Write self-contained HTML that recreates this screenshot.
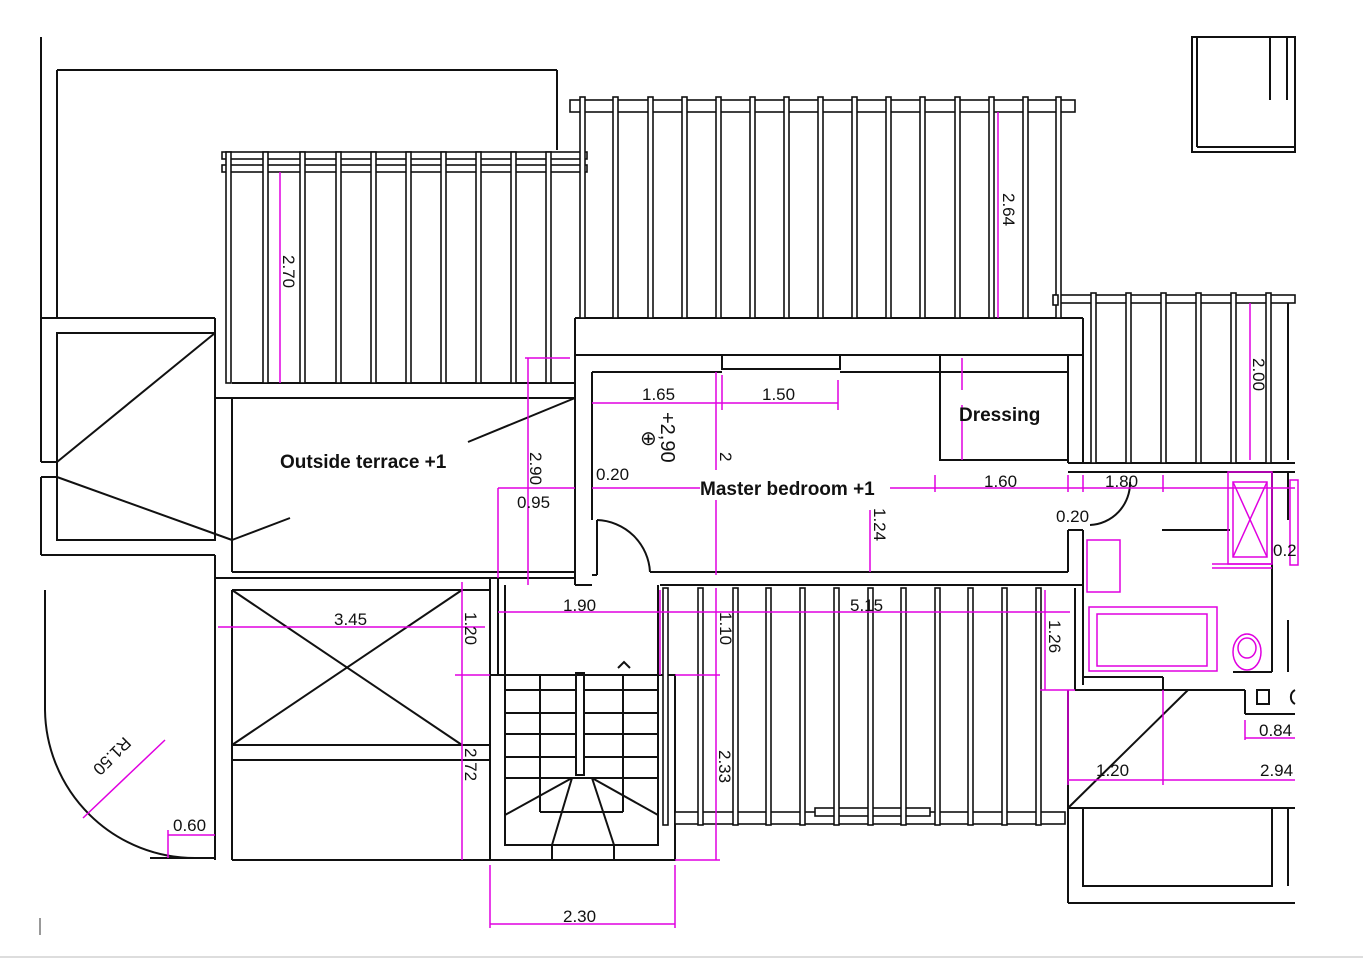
<!DOCTYPE html>
<html><head><meta charset="utf-8"><style>
html,body{margin:0;padding:0;background:#fff;}
svg{display:block;}
text{font-family:"Liberation Sans",sans-serif;}
</style></head><body>
<svg width="1363" height="960" viewBox="0 0 1363 960" xmlns="http://www.w3.org/2000/svg">
<rect width="1363" height="960" fill="#fff"/>
<line x1="0" y1="957" x2="1363" y2="957" stroke="#ddd" stroke-width="2"/>
<g stroke="#111" stroke-width="2" fill="none">
<line x1="41" y1="37" x2="41" y2="318"/>
<line x1="57" y1="70" x2="57" y2="318"/>
<line x1="57" y1="70" x2="557" y2="70"/>
<line x1="557" y1="70" x2="557" y2="150"/>
<line x1="41" y1="318" x2="215" y2="318"/>
<line x1="41" y1="318" x2="41" y2="462"/>
<line x1="41" y1="477" x2="41" y2="555"/>
<line x1="41" y1="462" x2="57" y2="462"/>
<line x1="41" y1="477" x2="57" y2="477"/>
<rect x="57" y="333" width="158" height="207"/>
<line x1="215" y1="333" x2="57" y2="462"/>
<line x1="57" y1="477" x2="232" y2="540"/>
<line x1="232" y1="540" x2="290" y2="518"/>
<line x1="41" y1="555" x2="215" y2="555"/>
<line x1="215" y1="318" x2="215" y2="398"/>
<line x1="215" y1="398" x2="575" y2="398"/>
<line x1="232" y1="383" x2="575" y2="383"/>
<line x1="232" y1="398" x2="232" y2="572"/>
<line x1="232" y1="572" x2="575" y2="572"/>
<line x1="232" y1="578" x2="575" y2="578"/>
<line x1="468" y1="442" x2="575" y2="398"/>
<line x1="215" y1="555" x2="215" y2="860"/>
<line x1="232" y1="590" x2="232" y2="860"/>
<line x1="215" y1="578" x2="490" y2="578"/>
<line x1="232" y1="590" x2="490" y2="590"/>
<line x1="232" y1="590" x2="462" y2="745"/>
<line x1="462" y1="590" x2="232" y2="745"/>
<line x1="232" y1="745" x2="490" y2="745"/>
<line x1="232" y1="760" x2="490" y2="760"/>
<line x1="490" y1="578" x2="490" y2="860"/>
<line x1="232" y1="860" x2="675" y2="860"/>
<line x1="45" y1="590" x2="45" y2="710"/>
<path d="M45 710 A150 150 0 0 0 195 858"/>
<line x1="150" y1="858" x2="215" y2="858"/>
<line x1="498" y1="578" x2="575" y2="578"/>
<line x1="498" y1="578" x2="498" y2="675"/>
<line x1="505" y1="585" x2="505" y2="675"/>
<line x1="658" y1="585" x2="658" y2="675"/>
<rect x="490" y="675" width="185" height="185"/>
<rect x="505" y="675" width="153" height="170"/>
<line x1="540" y1="675" x2="540" y2="812"/>
<line x1="623" y1="675" x2="623" y2="812"/>
<line x1="540" y1="812" x2="623" y2="812"/>
<rect x="576" y="673" width="8" height="102"/>
<line x1="505" y1="690" x2="576" y2="690"/><line x1="584" y1="690" x2="658" y2="690"/>
<line x1="505" y1="713" x2="576" y2="713"/><line x1="584" y1="713" x2="658" y2="713"/>
<line x1="505" y1="734" x2="576" y2="734"/><line x1="584" y1="734" x2="658" y2="734"/>
<line x1="505" y1="757" x2="576" y2="757"/><line x1="584" y1="757" x2="658" y2="757"/>
<line x1="505" y1="778" x2="658" y2="778"/>
<line x1="505" y1="815" x2="572" y2="778"/>
<line x1="658" y1="815" x2="592" y2="778"/>
<line x1="552" y1="845" x2="572" y2="778"/>
<line x1="614" y1="845" x2="592" y2="778"/>
<line x1="552" y1="845" x2="552" y2="860"/><line x1="614" y1="845" x2="614" y2="860"/>
<path d="M618 668 L624 662 L630 668"/>
<line x1="575" y1="318" x2="1083" y2="318"/>
<line x1="575" y1="355" x2="1083" y2="355"/>
<line x1="575" y1="318" x2="575" y2="585"/>
<line x1="592" y1="372" x2="592" y2="520"/>
<line x1="592" y1="372" x2="722" y2="372"/>
<line x1="840" y1="372" x2="940" y2="372"/>
<rect x="722" y="355" width="118" height="14"/>
<line x1="1083" y1="318" x2="1083" y2="355"/>
<rect x="940" y="355" width="128" height="105"/>
<line x1="940" y1="372" x2="1068" y2="372"/>
<line x1="1068" y1="355" x2="1068" y2="463"/>
<line x1="1083" y1="355" x2="1083" y2="463"/>
<line x1="1068" y1="463" x2="1295" y2="463"/>
<line x1="1068" y1="472" x2="1295" y2="472"/>
<line x1="597" y1="520" x2="597" y2="575"/>
<path d="M597 520 A55 55 0 0 1 650 572"/>
<line x1="650" y1="572" x2="1068" y2="572"/>
<line x1="660" y1="585" x2="1083" y2="585"/>
<line x1="1068" y1="530" x2="1068" y2="572"/>
<line x1="1068" y1="530" x2="1083" y2="530"/>
<line x1="575" y1="585" x2="592" y2="585"/>
<line x1="592" y1="575" x2="597" y2="575"/>
<path d="M1130 482 A42 42 0 0 1 1090 525"/>
<line x1="1162" y1="530" x2="1230" y2="530"/>
<line x1="1083" y1="530" x2="1083" y2="685"/>
<line x1="1075" y1="588" x2="1075" y2="690"/>
<line x1="1075" y1="690" x2="1163" y2="690"/>
<line x1="1083" y1="677" x2="1163" y2="677"/>
<line x1="1163" y1="677" x2="1163" y2="690"/>
<line x1="1068" y1="690" x2="1068" y2="808"/>
<line x1="1163" y1="690" x2="1245" y2="690"/>
<line x1="1245" y1="690" x2="1245" y2="714"/>
<line x1="1245" y1="714" x2="1295" y2="714"/>
<line x1="1272" y1="472" x2="1272" y2="672"/>
<line x1="1233" y1="672" x2="1272" y2="672"/>
<line x1="1288" y1="472" x2="1288" y2="520"/>
<line x1="1288" y1="620" x2="1288" y2="672"/>
<rect x="1257" y="690" width="12" height="14"/>
<path d="M1295 690 A8 8 0 0 0 1295 704"/>
<line x1="1068" y1="808" x2="1188" y2="690"/>
<line x1="1068" y1="808" x2="1295" y2="808"/>
<line x1="1068" y1="808" x2="1068" y2="903"/>
<line x1="1068" y1="903" x2="1295" y2="903"/>
<rect x="1083" y="808" width="189" height="78"/>
<line x1="1288" y1="808" x2="1288" y2="886"/>
<rect x="1192" y="37" width="103" height="115"/>
<line x1="1197" y1="37" x2="1197" y2="147"/><line x1="1197" y1="147" x2="1295" y2="147"/>
<line x1="1270" y1="37" x2="1270" y2="100"/><line x1="1287" y1="37" x2="1287" y2="100"/>
<line x1="1288" y1="297" x2="1288" y2="460"/>
<line x1="40" y1="918" x2="40" y2="935" stroke="#999"/>
</g>
<g stroke="#111" stroke-width="1.6" fill="#fff">
<rect x="222" y="152" width="365" height="7"/>
<rect x="222" y="165" width="365" height="7"/>
<rect x="570" y="100" width="505" height="12"/>
<rect x="1055" y="295" width="240" height="8"/>
<rect x="675" y="812" width="390" height="12"/>
<rect x="815" y="808" width="115" height="8"/>
</g>
<g stroke="#111" stroke-width="1.6" fill="#fff">
<rect x="226" y="152" width="5" height="231"/><rect x="263" y="152" width="5" height="231"/><rect x="300" y="152" width="5" height="231"/><rect x="336" y="152" width="5" height="231"/><rect x="371" y="152" width="5" height="231"/><rect x="406" y="152" width="5" height="231"/><rect x="441" y="152" width="5" height="231"/><rect x="476" y="152" width="5" height="231"/><rect x="511" y="152" width="5" height="231"/><rect x="546" y="152" width="5" height="231"/>
<rect x="580" y="97" width="5" height="221"/><rect x="613" y="97" width="5" height="221"/><rect x="648" y="97" width="5" height="221"/><rect x="682" y="97" width="5" height="221"/><rect x="716" y="97" width="5" height="221"/><rect x="750" y="97" width="5" height="221"/><rect x="784" y="97" width="5" height="221"/><rect x="818" y="97" width="5" height="221"/><rect x="852" y="97" width="5" height="221"/><rect x="886" y="97" width="5" height="221"/><rect x="920" y="97" width="5" height="221"/><rect x="955" y="97" width="5" height="221"/><rect x="989" y="97" width="5" height="221"/><rect x="1023" y="97" width="5" height="221"/><rect x="1056" y="97" width="5" height="221"/>
<rect x="1053" y="295" width="5" height="10"/>
<rect x="1091" y="293" width="5" height="170"/><rect x="1126" y="293" width="5" height="170"/><rect x="1161" y="293" width="5" height="170"/><rect x="1196" y="293" width="5" height="170"/><rect x="1231" y="293" width="5" height="170"/><rect x="1266" y="293" width="5" height="170"/>
<rect x="663" y="588" width="5" height="237"/><rect x="698" y="588" width="5" height="237"/><rect x="733" y="588" width="5" height="237"/><rect x="766" y="588" width="5" height="237"/><rect x="800" y="588" width="5" height="237"/><rect x="834" y="588" width="5" height="237"/><rect x="868" y="588" width="5" height="237"/><rect x="901" y="588" width="5" height="237"/><rect x="935" y="588" width="5" height="237"/><rect x="968" y="588" width="5" height="237"/><rect x="1002" y="588" width="5" height="237"/><rect x="1036" y="588" width="5" height="237"/>
</g>
<g stroke="#e000e0" stroke-width="1.5" fill="none">
<line x1="280" y1="172" x2="280" y2="383"/>
<line x1="998" y1="112" x2="998" y2="318"/>
<line x1="1250" y1="303" x2="1250" y2="460"/>
<line x1="525" y1="358" x2="570" y2="358"/>
<line x1="528" y1="358" x2="528" y2="585"/>
<line x1="498" y1="488" x2="575" y2="488"/>
<line x1="498" y1="488" x2="498" y2="578"/>
<line x1="592" y1="488" x2="700" y2="488"/>
<line x1="890" y1="488" x2="1295" y2="488"/>
<line x1="935" y1="475" x2="935" y2="492"/><line x1="1068" y1="475" x2="1068" y2="492"/><line x1="1083" y1="475" x2="1083" y2="492"/><line x1="1163" y1="475" x2="1163" y2="492"/>
<line x1="592" y1="403" x2="838" y2="403"/>
<line x1="722" y1="375" x2="722" y2="410"/><line x1="838" y1="380" x2="838" y2="410"/>
<line x1="716" y1="372" x2="716" y2="470"/><line x1="716" y1="500" x2="716" y2="575"/>
<line x1="870" y1="510" x2="870" y2="572"/>
<line x1="962" y1="358" x2="962" y2="390"/><line x1="962" y1="405" x2="962" y2="460"/>
<line x1="498" y1="612" x2="1070" y2="612"/>
<line x1="660" y1="590" x2="660" y2="675"/>
<line x1="716" y1="588" x2="716" y2="860"/>
<line x1="675" y1="675" x2="720" y2="675"/>
<line x1="675" y1="860" x2="720" y2="860"/>
<line x1="218" y1="627" x2="485" y2="627"/>
<line x1="462" y1="582" x2="462" y2="860"/>
<line x1="455" y1="675" x2="490" y2="675"/>
<line x1="1045" y1="590" x2="1045" y2="690"/>
<line x1="1040" y1="690" x2="1075" y2="690"/>
<line x1="490" y1="865" x2="490" y2="928"/><line x1="675" y1="865" x2="675" y2="928"/>
<line x1="490" y1="924" x2="675" y2="924"/>
<line x1="1068" y1="690" x2="1068" y2="785"/>
<line x1="1163" y1="690" x2="1163" y2="785"/>
<line x1="1068" y1="780" x2="1295" y2="780"/>
<line x1="1245" y1="720" x2="1245" y2="740"/><line x1="1245" y1="738" x2="1295" y2="738"/>
<line x1="168" y1="830" x2="168" y2="858"/><line x1="168" y1="835" x2="215" y2="835"/>
<line x1="83" y1="818" x2="165" y2="740"/>
<rect x="1228" y="472" width="44" height="92"/>
<rect x="1233" y="482" width="34" height="75"/>
<line x1="1233" y1="482" x2="1267" y2="557"/><line x1="1267" y1="482" x2="1233" y2="557"/>
<line x1="1212" y1="564" x2="1272" y2="564"/><line x1="1212" y1="568" x2="1272" y2="568"/>
<rect x="1087" y="540" width="33" height="52"/>
<rect x="1089" y="607" width="128" height="64"/>
<rect x="1097" y="614" width="110" height="52"/>
<ellipse cx="1247" cy="652" rx="14" ry="18"/>
<ellipse cx="1247" cy="648" rx="9" ry="10"/>
<rect x="1290" y="480" width="8" height="85"/>
</g>
<g font-size="17" fill="#111">
<text x="642" y="400">1.65</text>
<text x="762" y="400">1.50</text>
<text x="596" y="480">0.20</text>
<text x="517" y="508">0.95</text>
<text x="984" y="487">1.60</text>
<text x="1105" y="487">1.80</text>
<text x="1056" y="522">0.20</text>
<text x="563" y="611">1.90</text>
<text x="850" y="611">5.15</text>
<text x="334" y="625">3.45</text>
<text x="173" y="831">0.60</text>
<text x="563" y="922">2.30</text>
<text x="1096" y="776">1.20</text>
<text x="1260" y="776">2.94</text>
<text x="1259" y="736">0.84</text>
<text x="1273" y="556">0.2</text>
<text transform="translate(283,255) rotate(90)">2.70</text>
<text transform="translate(1003,193) rotate(90)">2.64</text>
<text transform="translate(1253,358) rotate(90)">2.00</text>
<text transform="translate(530,452) rotate(90)">2.90</text>
<text transform="translate(661,412) rotate(90)" font-size="20">+2,90</text>
<text transform="translate(720,452) rotate(90)">2</text>
<text transform="translate(874,508) rotate(90)">1.24</text>
<text transform="translate(465,612) rotate(90)">1.20</text>
<text transform="translate(720,612) rotate(90)">1.10</text>
<text transform="translate(1049,620) rotate(90)">1.26</text>
<text transform="translate(465,748) rotate(90)">2.72</text>
<text transform="translate(719,750) rotate(90)">2.33</text>
<text transform="translate(124,736) rotate(135)">R1.50</text>
<text x="640" y="445" font-size="20">⊕</text>
</g>
<g font-size="19" font-weight="bold" fill="#111">
<text x="280" y="468">Outside terrace +1</text>
<text x="700" y="495">Master bedroom +1</text>
<text x="959" y="421">Dressing</text>
</g>
</svg>
</body></html>
